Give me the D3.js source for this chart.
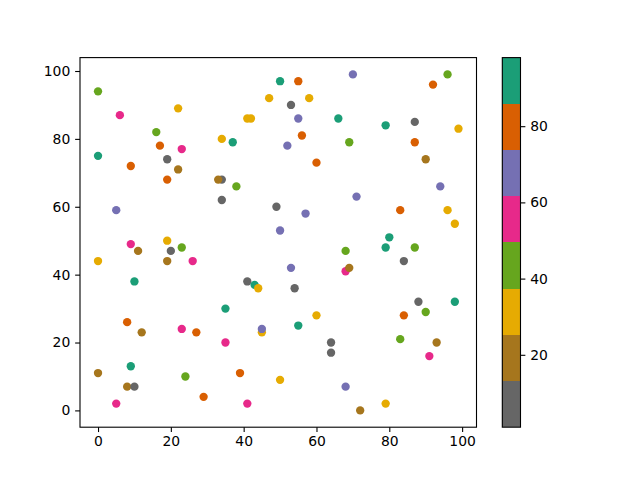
<!DOCTYPE html>
<html>
<head>
<meta charset="utf-8">
<script src="https://cdn.jsdelivr.net/npm/d3@7"></script>
<style>
  body { margin: 0; background: #fff; }
  svg text { font-family: "DejaVu Sans", sans-serif; }
</style>
</head>
<body>
<div id="chart"></div>
<script>
// point data (x, y, colour value)
var xs = [0, 6, 22, 16, 17, 23, 0, 9, 19, 22, 19, 34, 34, 33, 34, 5, 9, 19, 11, 20,
          23, 50, 55, 70, 47, 53, 58, 41, 42, 55, 66, 37, 56, 52, 69, 60, 38, 49, 57, 50,
          68, 96, 92, 79, 87, 99, 87, 90, 94, 71, 83, 96, 98, 80, 79, 87, 0, 19, 26, 10,
          8, 12, 23, 27, 9, 0, 24, 8, 10, 29, 5, 53, 68, 69, 41, 43, 44, 54, 35, 60,
          55, 45, 45, 35, 64, 64, 39, 50, 68, 41, 84, 88, 98, 84, 90, 83, 93, 91, 79, 72];
var ys = [94, 87, 89, 82, 78, 77, 75, 72, 74, 71, 68, 80, 68, 68, 62, 59, 49, 50, 47, 47,
          48, 97, 97, 99, 92, 90, 92, 86, 86, 86, 86, 79, 81, 78, 79, 73, 66, 60, 58, 53,
          47, 99, 96, 84, 85, 83, 79, 74, 66, 63, 59, 59, 55, 51, 48, 48, 44, 44, 44, 38,
          26, 23, 24, 23, 13, 11, 10, 7, 7, 4, 2, 42, 41, 42, 38, 37, 36, 36, 30, 28,
          25, 23, 24, 20, 20, 17, 11, 9, 7, 2, 44, 32, 32, 28, 29, 21, 20, 16, 2, 0];
var cs = [43, 55, 31, 43, 80, 55, 98, 80, 7, 19, 80, 31, 7, 19, 7, 68, 55, 31, 19, 7,
          43, 92, 80, 68, 31, 7, 31, 31, 31, 68, 92, 92, 80, 68, 43, 80, 43, 7, 68, 68,
          43, 43, 80, 92, 7, 31, 80, 19, 68, 68, 80, 31, 31, 92, 92, 43, 31, 19, 55, 92,
          80, 19, 55, 80, 92, 19, 43, 19, 1, 80, 55, 68, 55, 19, 7, 92, 31, 7, 92, 31,
          92, 31, 68, 55, 7, 7, 80, 31, 68, 55, 7, 7, 92, 80, 43, 43, 19, 55, 31, 19];

// Dark2 reversed, low to high
var colours = ["#666666", "#a6761d", "#e6ab02", "#66a61e", "#e7298a", "#7570b3", "#d95f02", "#1b9e77"];
var xTicks = [0, 20, 40, 60, 80, 100];
var yTicks = [0, 20, 40, 60, 80, 100];
var cTicks = [20, 40, 60, 80];

var W = 640, H = 480;
var axLeft = 80, axRight = 476.5, axTop = 57.6, axBottom = 427.2;
var fontSize = 13.9, tickLen = 4.86;

var svg = d3.select("#chart").append("svg")
    .attr("width", W)
    .attr("height", H);

var x = d3.scaleLinear().domain([-4.95, 103.95]).range([axLeft, axRight]);
var y = d3.scaleLinear().domain([-4.95, 103.95]).range([axBottom, axTop]);
var cExt = d3.extent(cs);
var colour = d3.scaleQuantize().domain(cExt).range(colours);

// dots
svg.append("g")
  .selectAll("circle")
  .data(d3.range(xs.length))
  .enter()
  .append("circle")
    .attr("cx", function (i) { return x(xs[i]); })
    .attr("cy", function (i) { return y(ys[i]); })
    .attr("r", 4.17)
    .style("fill", function (i) { return colour(cs[i]); });

// axes
var xAxis = svg.append("g")
    .attr("transform", "translate(0," + axBottom + ")")
    .call(d3.axisBottom(x).tickValues(xTicks).tickSizeOuter(0).tickSize(tickLen).tickPadding(4.2));
var yAxis = svg.append("g")
    .attr("transform", "translate(" + axLeft + ",0)")
    .call(d3.axisLeft(y).tickValues(yTicks).tickSizeOuter(0).tickSize(tickLen).tickPadding(4.86));

[xAxis, yAxis].forEach(function (a) {
  a.select(".domain").remove();
  a.selectAll("line").attr("stroke", "#000").attr("stroke-width", 1.1);
  a.selectAll("text").attr("font-size", fontSize).attr("fill", "#000")
    .attr("font-family", "DejaVu Sans, sans-serif");
});

svg.append("rect")
    .attr("x", axLeft).attr("y", axTop)
    .attr("width", axRight - axLeft).attr("height", axBottom - axTop)
    .attr("fill", "none").attr("stroke", "#000").attr("stroke-width", 1.1);

// colour bar
var cbLeft = 502.3, cbRight = 520.5;
var cy = d3.scaleLinear().domain(cExt).range([axBottom, axTop]);
var step = (cExt[1] - cExt[0]) / colours.length;

svg.append("g")
  .selectAll("rect")
  .data(colours)
  .enter()
  .append("rect")
    .attr("x", cbLeft)
    .attr("width", cbRight - cbLeft)
    .attr("y", function (d, i) { return cy(cExt[0] + (i + 1) * step); })
    .attr("height", function (d, i) { return cy(cExt[0] + i * step) - cy(cExt[0] + (i + 1) * step); })
    .attr("fill", function (d) { return d; })
    .attr("shape-rendering", "crispEdges");

svg.append("rect")
    .attr("x", cbLeft).attr("y", axTop)
    .attr("width", cbRight - cbLeft).attr("height", axBottom - axTop)
    .attr("fill", "none").attr("stroke", "#000").attr("stroke-width", 1.1);

var cAxis = svg.append("g")
    .attr("transform", "translate(" + cbRight + ",0)")
    .call(d3.axisRight(cy).tickValues(cTicks).tickSizeOuter(0).tickSize(tickLen).tickPadding(4.86));
cAxis.select(".domain").remove();
cAxis.selectAll("line").attr("stroke", "#000").attr("stroke-width", 1.1);
cAxis.selectAll("text").attr("font-size", fontSize).attr("fill", "#000")
    .attr("font-family", "DejaVu Sans, sans-serif");
</script>
</body>
</html>
